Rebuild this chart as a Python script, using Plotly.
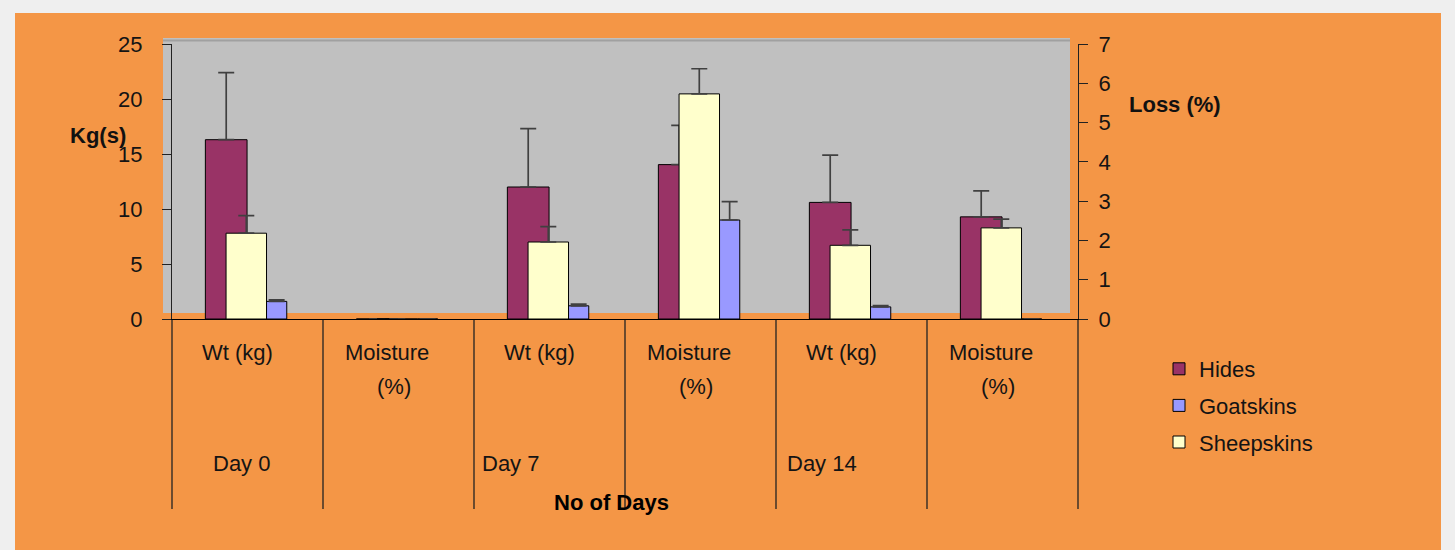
import plotly.graph_objects as go

# ---------------- data ----------------
days = ["Day 0", "Day 7", "Day 14"]
measures = ["Wt (kg)", "Moisture (%)"]
categories = [f"{d} {m}" for d in days for m in measures]
wt_cats = [f"{d} Wt (kg)" for d in days]
moist_cats = [f"{d} Moisture (%)" for d in days]

series_names = ["Hides", "Goatskins", "Sheepskins"]

hides_wt = [16.3, 12.0, 10.6]
hides_wt_err = [6.1, 5.3, 4.3]
goat_wt = [1.6, 1.2, 1.1]
goat_wt_err = [0.15, 0.15, 0.12]
sheep_wt = [7.8, 7.0, 6.7]
sheep_wt_err = [1.6, 1.4, 1.4]

hides_moist = [0.0, 3.93, 2.6]
hides_moist_err = [0.0, 1.0, 0.66]
goat_moist = [0.0, 2.52, 0.0]
goat_moist_err = [0.0, 0.47, 0.0]
sheep_moist = [0.0, 5.73, 2.32]
sheep_moist_err = [0.0, 0.64, 0.22]

left_ticks = [0, 5, 10, 15, 20, 25]
right_ticks = [0, 1, 2, 3, 4, 5, 6, 7]

# ---------------- style ----------------
colors = {"Hides": "#993366", "Goatskins": "#9999FF", "Sheepskins": "#FFFFCC"}
offsets = {"Hides": -0.279, "Goatskins": 0.126, "Sheepskins": -0.142}
widths = {"Hides": 0.276, "Goatskins": 0.134, "Sheepskins": 0.268}
FONT = "Liberation Sans, Arial, sans-serif"
FS = 22
ORANGE = "#F49646"
GRAY = "#C0C0C0"
ERR = "#404040"
TXT = "#141414"

fig = go.Figure()

data_wt = {"Hides": (hides_wt, hides_wt_err),
           "Goatskins": (goat_wt, goat_wt_err),
           "Sheepskins": (sheep_wt, sheep_wt_err)}
data_moist = {"Hides": (hides_moist, hides_moist_err),
              "Goatskins": (goat_moist, goat_moist_err),
              "Sheepskins": (sheep_moist, sheep_moist_err)}

for name in series_names:
    vals, errs = data_wt[name]
    fig.add_trace(go.Bar(
        x=wt_cats, y=vals, name=name, legendgroup=name, showlegend=True,
        offset=offsets[name], width=widths[name],
        marker=dict(color=colors[name], line=dict(color="black", width=1)),
        error_y=dict(type="data", array=errs, arrayminus=[0] * len(errs),
                     symmetric=False, color=ERR, thickness=1.7, width=8),
        yaxis="y"))
for name in series_names:
    vals, errs = data_moist[name]
    fig.add_trace(go.Bar(
        x=moist_cats, y=vals, name=name, legendgroup=name, showlegend=False,
        offset=offsets[name], width=widths[name],
        marker=dict(color=colors[name], line=dict(color="black", width=1)),
        error_y=dict(type="data", array=errs, arrayminus=[0] * len(errs),
                     symmetric=False, color=ERR, thickness=1.7, width=8),
        yaxis="y2"))

# geometry (pixels) for layout helpers
W, H = 1455, 550
L, R, T, B = 172, 377, 44, 231
pw, ph = W - L - R, H - T - B


def px(xpix):
    return (xpix - L) / pw


def py(ypix):
    return (H - B - ypix) / ph


shapes = [
    dict(type="rect", xref="paper", yref="paper", x0=px(15), x1=px(1441),
         y0=py(560), y1=py(13), fillcolor=ORANGE, line=dict(width=0), layer="below"),
    dict(type="rect", xref="paper", yref="paper", x0=px(163), x1=px(1070),
         y0=py(313), y1=py(38), fillcolor=GRAY, line=dict(width=0), layer="below"),
    dict(type="line", xref="paper", yref="paper", x0=px(163), x1=px(1070),
         y0=py(40.5), y1=py(40.5), line=dict(color="#A0A0A0", width=2), layer="below"),
]
ncat = len(categories)
for i in range(ncat + 1):
    shapes.append(dict(type="line", xref="paper", yref="paper",
                       x0=i / ncat, x1=i / ncat, y0=0, y1=py(509),
                       line=dict(color="#222222", width=1.3), layer="below"))


def ann(**kw):
    base = dict(showarrow=False, xanchor="center", yanchor="middle",
                font=dict(size=FS, color=TXT, family=FONT))
    base.update(kw)
    return base


annotations = []
label_shift = {"Wt (kg)": -10, "Moisture": -12, "(%)": -5}
for d in days:
    annotations.append(ann(x=f"{d} Wt (kg)", xref="x", y=py(352), yref="paper",
                           text="Wt (kg)", xshift=label_shift["Wt (kg)"]))
    annotations.append(ann(x=f"{d} Moisture (%)", xref="x", y=py(352), yref="paper",
                           text="Moisture", xshift=label_shift["Moisture"]))
    annotations.append(ann(x=f"{d} Moisture (%)", xref="x", y=py(386.5), yref="paper",
                           text="(%)", xshift=label_shift["(%)"]))
day_shift = [-37, -70, -67]
for d, s in zip(days, day_shift):
    annotations.append(ann(x=f"{d} Wt (kg)", xref="x", y=py(463), yref="paper",
                           text=d, xanchor="left", xshift=s))
annotations += [
    ann(x=px(611), y=py(502), xref="paper", yref="paper", text="<b>No of Days</b>",
        font=dict(size=FS, color="black", family=FONT)),
    ann(x=px(98), y=py(135), xref="paper", yref="paper", text="<b>Kg(s)</b>",
        font=dict(size=FS, color="#111111", family=FONT)),
    ann(x=px(1175), y=py(104), xref="paper", yref="paper", text="<b>Loss (%)</b>",
        font=dict(size=FS, color="#111111", family=FONT)),
]

fig.update_layout(
    width=W, height=H,
    margin=dict(l=L, r=R, t=T, b=B, pad=0),
    paper_bgcolor="#EFEFEF",
    plot_bgcolor="rgba(0,0,0,0)",
    barmode="overlay",
    font=dict(family=FONT, size=FS, color=TXT),
    xaxis=dict(type="category", categoryorder="array", categoryarray=categories,
               range=[-0.5, ncat - 0.5], showticklabels=False, ticks="",
               showgrid=False, zeroline=False, showline=True,
               linecolor="black", linewidth=1.3),
    yaxis=dict(range=[0, 25], tickvals=left_ticks, ticks="outside", ticklen=9,
               tickwidth=1.3, tickcolor="#222222", showline=True, linecolor="#222222",
               linewidth=1.3, showgrid=False, zeroline=False,
               tickfont=dict(size=FS, family=FONT, color=TXT),
               ticklabelstandoff=15),
    yaxis2=dict(range=[0, 7], tickvals=right_ticks, overlaying="y", side="right",
                ticks="outside", ticklen=9, tickwidth=1.3, tickcolor="#222222",
                showline=True, linecolor="#222222", linewidth=1.3, showgrid=False,
                zeroline=False, tickfont=dict(size=FS, family=FONT, color=TXT),
                ticklabelstandoff=6),
    legend=dict(x=px(1159), y=py(348), xanchor="left", yanchor="top",
                bgcolor="rgba(0,0,0,0)", traceorder="grouped", tracegroupgap=5,
                font=dict(size=FS, family=FONT, color=TXT)),
    shapes=shapes,
    annotations=annotations,
    showlegend=True,
)

fig.write_html("out.html", config={"displayModeBar": False},
               post_script="document.body.style.margin='0';document.body.style.background='#EFEFEF';")
